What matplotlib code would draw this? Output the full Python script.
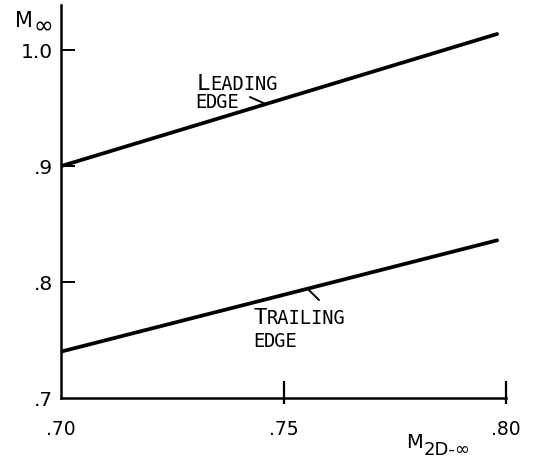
import matplotlib
matplotlib.use("Agg")
import matplotlib.pyplot as plt

# data
m2d = [0.70, 0.798]
leading_edge = [0.900, 1.014]
trailing_edge = [0.740, 0.836]

xticks = [0.70, 0.75, 0.80]
xtick_labels = [".70", ".75", ".80"]
yticks = [0.7, 0.8, 0.9, 1.0]
ytick_labels = [".7", ".8", ".9", "1.0"]

W, H = 555, 462
fig = plt.figure(figsize=(W / 100, H / 100), dpi=100)
ax = fig.add_axes([61 / W, 1 - 398 / H, (506 - 61) / W, (398 - 5) / H])

ax.plot(m2d, leading_edge, color="black", lw=2.7, solid_capstyle="round")
ax.plot(m2d, trailing_edge, color="black", lw=2.7, solid_capstyle="round")

ax.set_xlim(0.70, 0.80)
ax.set_ylim(0.7, 1.039)

for side in ["top", "right"]:
    ax.spines[side].set_visible(False)
for side in ["left", "bottom"]:
    ax.spines[side].set_linewidth(1.8)

ax.set_xticks(xticks)
ax.set_xticklabels(xtick_labels)
ax.set_yticks(yticks)
ax.set_yticklabels(ytick_labels)
# small stubs of the x ticks poke below the axis
ax.xaxis.remove_overlapping_locs = False
ax.set_xticks(xticks[1:], minor=True)
ax.tick_params(axis="x", which="major", direction="in", length=12, width=1.6,
               pad=16, labelsize=13.5)
ax.tick_params(axis="x", which="minor", direction="out", length=4, width=1.6)
ax.tick_params(axis="y", direction="in", length=10, width=1.4, pad=6,
               labelsize=14.5)
ax.xaxis.get_major_ticks()[0].tick1line.set_visible(False)
ax.yaxis.get_major_ticks()[0].tick1line.set_visible(False)


def fig_text(x, y, s, size, family="DejaVu Sans"):
    # x, y in image pixels (origin top-left), y is baseline
    fig.text(x / W, 1 - y / H, s, fontsize=size, family=family,
             ha="left", va="baseline")


def small_caps(x, y, word, big=16, small=13.5):
    fig_text(x, y, word[0], big, "DejaVu Sans Mono")
    step = 0.58 * big * 100 / 72
    fig_text(x + step, y, word[1:], small, "DejaVu Sans Mono")


# axis titles
fig_text(15, 27, "M", 15)
fig_text(34, 33, "\u221e", 17)
fig_text(406, 448, "M", 14)
fig_text(424, 455, "2D-\u221e", 13)

# curve labels with leader ticks
small_caps(197, 90, "LEADING")
small_caps(195, 108, "EDGE", big=13.5)
small_caps(254, 324, "TRAILING")
small_caps(253, 347, "EDGE", big=13.5)

ax.annotate("", xy=(0.7460, 0.9 + 0.114 * 0.046 / 0.098), xycoords="data",
            xytext=(250 / W, 1 - 97 / H), textcoords="figure fraction",
            arrowprops=dict(arrowstyle="-", lw=1.4, color="black",
                            shrinkA=0, shrinkB=0))
ax.annotate("", xy=(0.7554, 0.74 + 0.096 * 0.0554 / 0.098), xycoords="data",
            xytext=(319 / W, 1 - 300 / H), textcoords="figure fraction",
            arrowprops=dict(arrowstyle="-", lw=1.4, color="black",
                            shrinkA=0, shrinkB=0))

fig.savefig("out.png", dpi=100)
